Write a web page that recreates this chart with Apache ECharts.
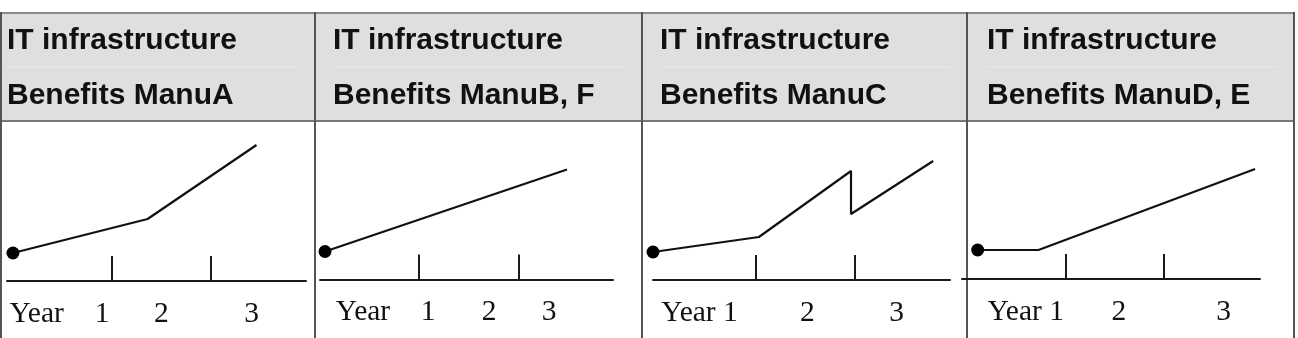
<!DOCTYPE html>
<html>
<head>
<meta charset="utf-8">
<script src="https://cdn.jsdelivr.net/npm/echarts@6/dist/echarts.min.js"></script>
<style>
  html, body { margin: 0; padding: 0; background: #fff; }
  #chart { width: 1298px; height: 338px; }
</style>
</head>
<body>
<div id="chart"></div>
<script>
// header texts, one pair per column
const titleLine1 = ['IT infrastructure', 'IT infrastructure', 'IT infrastructure', 'IT infrastructure'];
const titleLine2 = ['Benefits ManuA', 'Benefits ManuB, F', 'Benefits ManuC', 'Benefits ManuD, E'];

// year boundaries (tick marks)
const yearTicks = [1, 2];

// benefit curves, x in years, y in relative benefit
const manuA_x = [0, 1.36, 2.46];
const manuA_y = [2.8, 6.2, 13.6];
const manuBF_x = [0.06, 2.48];
const manuBF_y = [2.8, 11.0];
const manuC_x = [-0.04, 1.03, 1.96, 1.96, 2.79];
const manuC_y = [2.8, 4.3, 10.9, 6.6, 11.9];
const manuDE_x = [0.10, 0.72, 2.93];
const manuDE_y = [2.9, 2.9, 11.0];

// axis labels under each panel
const labelsA = ['Year', '1', '2', '3'];
const labelPosA = [0.24, 0.9, 1.5, 2.41];
const labelsBF = ['Year', '1', '2', '3'];
const labelPosBF = [0.44, 1.09, 1.70, 2.30];
const labelsC = ['Year 1', '2', '3'];
const labelPosC = [0.43, 1.52, 2.42];
const labelsDE = ['Year 1', '2', '3'];
const labelPosDE = [0.59, 1.54, 2.61];

// layout
const colEdges = [1, 315, 642, 967, 1294];
const textLeft = [7, 333, 660, 987];
const panels = [
  { xs: manuA_x,  ys: manuA_y,  labels: labelsA,  pos: labelPosA,  left: 7,   width: 299, min: -0.06, max: 2.96, axisY: 281 },
  { xs: manuBF_x, ys: manuBF_y, labels: labelsBF, pos: labelPosBF, left: 320, width: 293, min: 0.01,  max: 2.94, axisY: 279.5 },
  { xs: manuC_x,  ys: manuC_y,  labels: labelsC,  pos: labelPosC,  left: 653, width: 297, min: -0.04, max: 2.96, axisY: 280 },
  { xs: manuDE_x, ys: manuDE_y, labels: labelsDE, pos: labelPosDE, left: 962, width: 298, min: -0.06, max: 2.98, axisY: 279 }
];

let chart = echarts.init(document.getElementById('chart'), null, { renderer: 'canvas' });

let grids = [], xAxes = [], yAxes = [], series = [];
panels.forEach((p, i) => {
  grids.push({ left: p.left, width: p.width, top: p.axisY - 160, height: 160, outerBoundsMode: 'none' });
  xAxes.push({
    type: 'value', gridIndex: i, min: p.min, max: p.max,
    splitLine: { show: false },
    axisLine: { show: true, lineStyle: { color: '#1a1a1a', width: 2 } },
    axisTick: { show: true, inside: true, length: 25, customValues: yearTicks, lineStyle: { color: '#1a1a1a', width: 2 } },
    axisLabel: {
      show: true, customValues: p.pos, margin: 33, verticalAlign: 'middle',
      fontFamily: '"Liberation Serif", "DejaVu Serif", serif', fontSize: 29.5, color: '#111',
      formatter: v => {
        let k = p.pos.findIndex(q => Math.abs(q - v) < 1e-6);
        return k >= 0 ? p.labels[k] : '';
      }
    }
  });
  yAxes.push({ type: 'value', gridIndex: i, min: 0, max: 16, show: false });
  series.push({
    type: 'line', xAxisIndex: i, yAxisIndex: i, clip: false, animation: false,
    lineStyle: { color: '#111', width: 2.2 },
    itemStyle: { color: '#000' },
    data: p.xs.map((x, k) => ({
      value: [x, p.ys[k]],
      symbol: k === 0 ? 'circle' : 'none',
      symbolSize: 13
    }))
  });
});

// table frame
let graphic = [
  { type: 'rect', shape: { x: 1, y: 13, width: 1293, height: 108 }, style: { fill: '#dfdfdf' }, z: -10 }
];
for (let i = 0; i < 4; i++) {
  graphic.push({ type: 'line', shape: { x1: textLeft[i], y1: 67, x2: colEdges[i + 1] - 17, y2: 67 }, style: { stroke: '#ebebeb', lineWidth: 1 }, z: -9 });
  graphic.push({ type: 'text', x: textLeft[i], y: 41, style: { text: titleLine1[i], font: 'bold 30px "Liberation Sans", Arial, sans-serif', fill: '#111', verticalAlign: 'middle' } });
  graphic.push({ type: 'text', x: textLeft[i], y: 95.5, style: { text: titleLine2[i], font: 'bold 30px "Liberation Sans", Arial, sans-serif', fill: '#111', verticalAlign: 'middle' } });
}
graphic.push({ type: 'line', shape: { x1: 0, y1: 13, x2: 1295, y2: 13 }, style: { stroke: '#8a8a8a', lineWidth: 2 } });
graphic.push({ type: 'line', shape: { x1: 0, y1: 121, x2: 1295, y2: 121 }, style: { stroke: '#777', lineWidth: 2 } });
colEdges.forEach(x => {
  graphic.push({ type: 'line', shape: { x1: x, y1: 12, x2: x, y2: 338 }, style: { stroke: '#555', lineWidth: 2 } });
});

chart.setOption({
  animation: false,
  backgroundColor: '#fff',
  grid: grids,
  xAxis: xAxes,
  yAxis: yAxes,
  series: series,
  graphic: graphic
});
</script>
</body>
</html>
